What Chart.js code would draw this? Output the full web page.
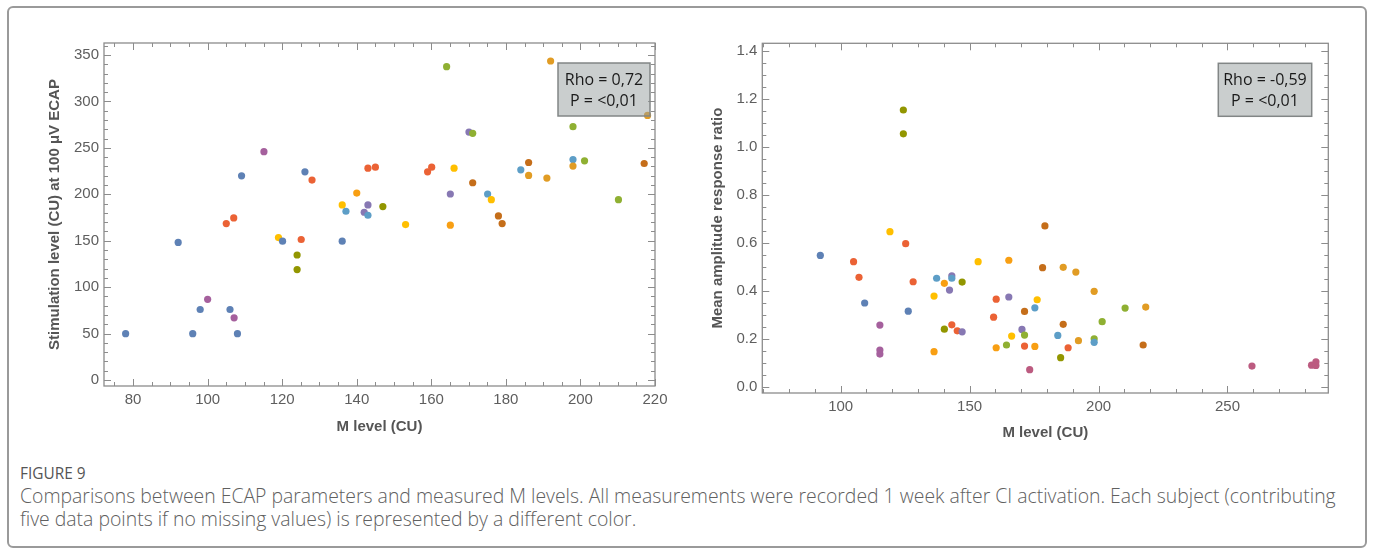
<!DOCTYPE html>
<html>
<head>
<meta charset="utf-8">
<script src="https://cdn.jsdelivr.net/npm/chart.js@4"></script>
<style>
  body { margin: 0; background: #fff; width: 1375px; height: 554px; overflow: hidden; position: relative; font-family: "Open Sans", sans-serif; }
  #frame { position: absolute; left: 7px; top: 6px; width: 1356px; height: 538px; border: 2px solid #9a9a9a; border-radius: 6px; }
  #leftChart { position: absolute; left: 0; top: 0; }
  #rightChart { position: absolute; left: 690px; top: 0; }
  #figLabel { position: absolute; left: 20px; top: 463px; font-size: 15.4px; line-height: 22px; color: #555; }
  #caption { position: absolute; left: 20px; top: 485px; font-size: 19.4px; font-weight: 300; line-height: 22.5px; color: #606060; white-space: nowrap; }
</style>
</head>
<body>
<div id="frame"></div>
<canvas id="leftChart" width="690" height="450"></canvas>
<canvas id="rightChart" width="685" height="450"></canvas>
<div id="figLabel">FIGURE 9</div>
<div id="caption">Comparisons between ECAP parameters and measured M levels. All measurements were recorded 1 week after CI activation. Each subject (contributing<br>five data points if no missing values) is represented by a different color.</div>
<script>
"use strict";
// subject colours (Mathematica default palette)
const Palette = ['#5E81B5', '#E19C24', '#8FB032', '#EB6235', '#8778B3', '#C56E1A', '#5D9EC7',
    '#FFBF00', '#A5609D', '#929600', '#E95536', '#6685D9', '#F89F13', '#BC5B80'];

// left panel: M level vs stimulation level at 100 uV ECAP
const StimM = [78, 92.1, 96, 98, 100, 106, 107.1, 108, 105, 107, 109.1, 115.1, 119, 120.1, 125.1,
    124, 124, 126.1, 128, 136.1, 136.1, 137.1, 140, 143, 142, 143, 147, 143, 145, 164.1, 192,
    170.1, 171.1, 159, 160.1, 166.1, 171.1, 165.1, 175.1, 176.1, 178, 179, 153.1, 165.1, 184,
    186.1, 186.1, 191, 198, 198, 198, 201.1, 210.2, 217.1, 218];
const StimLevel = [50, 148.2, 50, 76, 87, 76, 67, 50, 168.5, 174.6, 220, 246, 153.5, 149.6, 151.4,
    134.7, 119, 224.3, 215.4, 149.6, 188.6, 181.8, 201.4, 188.6, 180.7, 177.5, 186.8, 228.2, 229.3, 337.5, 343.6,
    267.1, 265.7, 224.3, 229.3, 228.2, 212.5, 200.4, 200.4, 194.3, 176.8, 168.5, 167.5, 166.8, 226.4,
    234.3, 220.4, 217.5, 272.9, 237.5, 230.4, 236.1, 194.3, 233.2, 285];
const StimSubject = [0, 0, 0, 0, 8, 0, 8, 0, 3, 3, 0, 8, 7, 0, 3,
    9, 9, 0, 3, 0, 7, 6, 12, 4, 4, 6, 9, 3, 3, 2, 1,
    4, 2, 3, 3, 7, 5, 4, 6, 7, 5, 5, 7, 12, 6,
    5, 1, 1, 2, 6, 1, 2, 2, 5, 1];
const StimXTicks = [80, 100, 120, 140, 160, 180, 200, 220];
const StimYTicks = [0, 50, 100, 150, 200, 250, 300, 350];

// right panel: M level vs mean amplitude response ratio
const RatioM = [92.1, 119.1, 125.2, 105, 107.1, 128.1, 109.3, 126.2, 115.2, 115.2, 115.2, 137.2, 143.1,
    143.1, 140.2, 147.1, 142.2, 136.2, 140.2, 143.1, 145.2, 147.1, 136.2, 153.3, 165.2, 160.3, 165.2,
    159.3, 160.3, 164.3, 166.3, 170.3, 171.3, 171.3, 171.3, 175.3, 175.3, 176.2, 173.3, 179.2, 178.3,
    186.3, 191.2, 198.3, 186.3, 184.2, 192.2, 188.2, 185.3, 198.3, 198.3, 210.3, 218.3, 201.4, 217.3,
    259.5, 282.6, 284.3, 284.3, 124.3, 124.3];
const RatioValue = [0.547, 0.646, 0.596, 0.521, 0.456, 0.4375, 0.349, 0.315, 0.257, 0.153, 0.136, 0.452, 0.4625,
    0.452, 0.431, 0.436, 0.403, 0.378, 0.240, 0.258, 0.233, 0.229, 0.146, 0.521, 0.527, 0.365, 0.374,
    0.29, 0.1625, 0.174, 0.211, 0.239, 0.2154, 0.314, 0.1696, 0.168, 0.329, 0.3625, 0.071, 0.67, 0.496,
    0.4975, 0.478, 0.3975, 0.26, 0.214, 0.192, 0.1625, 0.121, 0.2, 0.185, 0.328, 0.332, 0.271, 0.174,
    0.086, 0.09, 0.104, 0.089, 1.153, 1.054];
const RatioSubject = [0, 7, 3, 3, 3, 3, 0, 0, 8, 8, 8, 6, 4,
    6, 12, 9, 4, 7, 9, 3, 3, 4, 12, 7, 12, 3, 4,
    3, 12, 2, 7, 4, 2, 5, 3, 12, 6, 7, 13, 5, 5,
    1, 1, 1, 5, 6, 1, 3, 9, 2, 6, 2, 1, 2, 5,
    13, 13, 13, 13, 9, 9];
const RatioXTicks = [100, 150, 200, 250];
const RatioYTicks = [0, 0.2, 0.4, 0.6, 0.8, 1.0, 1.2, 1.4];

// frame with inward ticks on all four sides, like the original plots
const FrameTicks = {
    id: 'frameTicks',
    beforeDatasetsDraw(chart, args, opts) {
        const ctx = chart.ctx;
        const a = chart.chartArea;
        const x = chart.scales.x;
        const y = chart.scales.y;
        ctx.save();
        ctx.strokeStyle = '#8c8c8c';
        ctx.lineWidth = 1.3;
        ctx.strokeRect(a.left, a.top, a.right - a.left, a.bottom - a.top);
        ctx.lineWidth = 1;
        ctx.beginPath();
        for (let i = Math.ceil(x.min / opts.xMinor); i * opts.xMinor <= x.max + 1e-9; i++) {
            const v = i * opts.xMinor;
            const major = Math.abs(v / opts.xMajor - Math.round(v / opts.xMajor)) < 1e-6;
            const len = major ? 7 : 4;
            const px = Math.round(x.getPixelForValue(v)) + 0.5;
            ctx.moveTo(px, a.bottom); ctx.lineTo(px, a.bottom - len);
            ctx.moveTo(px, a.top); ctx.lineTo(px, a.top + len);
        }
        for (let i = Math.ceil(y.min / opts.yMinor - 1e-9); i * opts.yMinor <= y.max + 1e-9; i++) {
            const v = i * opts.yMinor;
            const major = Math.abs(v / opts.yMajor - Math.round(v / opts.yMajor)) < 1e-6;
            const len = major ? 7 : 4;
            const py = Math.round(y.getPixelForValue(v)) + 0.5;
            ctx.moveTo(a.left, py); ctx.lineTo(a.left + len, py);
            ctx.moveTo(a.right, py); ctx.lineTo(a.right - len, py);
        }
        ctx.stroke();
        ctx.restore();
    },
    afterDatasetsDraw(chart, args, opts) {
        // grey statistics box
        const ctx = chart.ctx;
        const a = chart.chartArea;
        const bx = a.right - opts.boxRight - opts.boxW;
        const by = a.top + opts.boxTop;
        ctx.save();
        ctx.fillStyle = 'rgba(150,158,158,0.5)';
        ctx.fillRect(bx, by, opts.boxW, opts.boxH);
        ctx.strokeStyle = '#828686';
        ctx.lineWidth = 1.5;
        ctx.strokeRect(bx, by, opts.boxW, opts.boxH);
        ctx.fillStyle = '#1a1a1a';
        ctx.font = '16px "Open Sans"';
        ctx.textAlign = 'center';
        ctx.textBaseline = 'middle';
        ctx.fillText(opts.lines[0], bx + opts.boxW / 2, by + 17);
        ctx.fillText(opts.lines[1], bx + opts.boxW / 2, by + 38.5);
        ctx.restore();
    }
};

function MakePoints(xs, ys) {
    const pts = [];
    for (let i = 0; i < xs.length; i++) {
        pts.push({ x: xs[i], y: ys[i] });
    }
    return pts;
}

function DrawScatter(id, xs, ys, subj, cfg) {
    const tickFont = { family: '"Liberation Sans", Arial, sans-serif', size: 15 };
    const titleFont = { family: '"Liberation Sans", Arial, sans-serif', size: 15, weight: 'bold' };
    const config = {
        type: 'scatter',
        data: {
            datasets: [{
                data: MakePoints(xs, ys),
                pointBackgroundColor: subj.map(s => Palette[s]),
                pointBorderWidth: 0,
                pointRadius: 3.6
            }]
        },
        plugins: [FrameTicks],
        options: {
            responsive: false,
            animation: false,
            devicePixelRatio: 1,
            layout: { padding: cfg.padding },
            plugins: {
                legend: { display: false },
                tooltip: { enabled: false },
                frameTicks: cfg.frame
            },
            scales: {
                x: {
                    type: 'linear',
                    min: cfg.xMin, max: cfg.xMax,
                    grid: { display: false, drawTicks: false },
                    border: { display: false },
                    afterBuildTicks: s => { s.ticks = cfg.xTicks.map(v => ({ value: v })); },
                    afterFit: s => { s.height = cfg.xHeight; },
                    ticks: { color: '#5e5e5e', font: tickFont, padding: 5, maxRotation: 0 },
                    title: { display: true, text: 'M level (CU)', color: '#555', font: titleFont,
                        padding: { top: 0, bottom: cfg.xTitlePad } }
                },
                y: {
                    type: 'linear',
                    min: cfg.yMin, max: cfg.yMax,
                    grid: { display: false, drawTicks: false },
                    border: { display: false },
                    afterBuildTicks: s => { s.ticks = cfg.yTicks.map(v => ({ value: v })); },
                    afterFit: s => { s.width = cfg.yWidth; },
                    ticks: { color: '#5e5e5e', font: tickFont, padding: 5, callback: cfg.yFormat },
                    title: { display: true, text: cfg.yTitle, color: '#555', font: titleFont,
                        padding: { top: cfg.yTitlePad, bottom: 0 } }
                }
            }
        }
    };
    return new Chart(document.getElementById(id), config);
}

DrawScatter('leftChart', StimM, StimLevel, StimSubject, {
    padding: { top: 43, right: 35, left: 0, bottom: 0 },
    xMin: 72.2, xMax: 220, yMin: -6.4, yMax: 363,
    xTicks: StimXTicks, yTicks: StimYTicks,
    xHeight: 64, yWidth: 104, xTitlePad: 14, yTitlePad: 46,
    yTitle: 'Stimulation level (CU) at 100 \u03bcV ECAP',
    yFormat: v => String(v),
    frame: { xMinor: 5, xMajor: 20, yMinor: 10, yMajor: 50,
        boxRight: 5, boxTop: 20, boxW: 92, boxH: 53, lines: ['Rho = 0,72', 'P = <0,01'] }
});

DrawScatter('rightChart', RatioM, RatioValue, RatioSubject, {
    padding: { top: 43.3, right: 46.7, left: 0, bottom: 0 },
    xMin: 69.6, xMax: 289.1, yMin: -0.026, yMax: 1.431,
    xTicks: RatioXTicks, yTicks: RatioYTicks,
    xHeight: 57, yWidth: 72.3, xTitlePad: 7.7, yTitlePad: 19.3,
    yTitle: 'Mean amplitude response ratio',
    yFormat: v => Number(v).toFixed(1),
    frame: { xMinor: 10, xMajor: 50, yMinor: 0.05, yMajor: 0.2,
        boxRight: 16.6, boxTop: 20, boxW: 93.4, boxH: 53, lines: ['Rho = -0,59', 'P = <0,01'] }
});
</script>
</body>
</html>
